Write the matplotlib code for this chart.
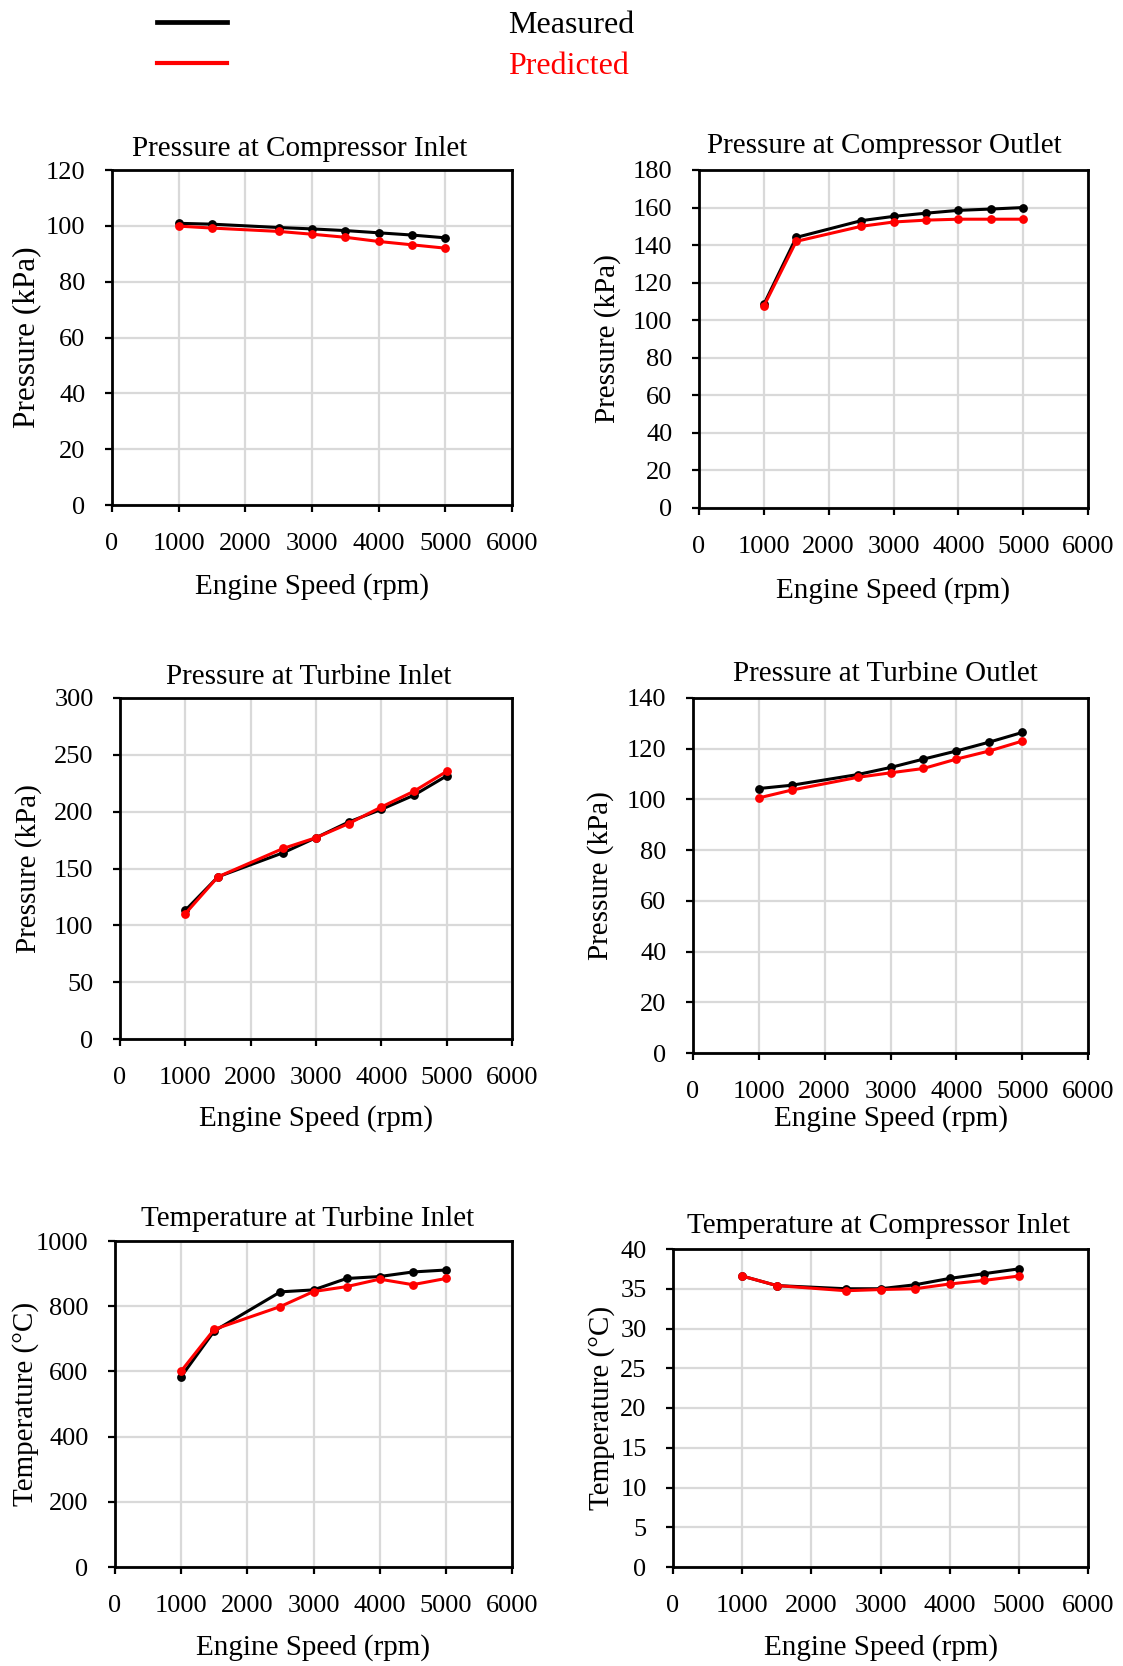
import matplotlib
matplotlib.use("Agg")
import matplotlib.pyplot as plt
from matplotlib.lines import Line2D

plt.rcParams['font.family'] = ['Liberation Serif', 'DejaVu Serif']

# ---------------- data ----------------
speed = [1000, 1500, 2500, 3000, 3500, 4000, 4500, 5000]

p_comp_in_meas = [100.9, 100.6, 99.4, 98.9, 98.3, 97.5, 96.7, 95.7]
p_comp_in_pred = [99.9, 99.2, 98.0, 97.0, 95.9, 94.4, 93.2, 92.0]

p_comp_out_meas = [108.4, 144.1, 153.0, 155.3, 157.0, 158.5, 159.2, 160.0]
p_comp_out_pred = [107.5, 142.0, 150.0, 152.3, 153.3, 153.8, 153.8, 153.8]

p_turb_in_meas = [113.2, 142.7, 163.9, 177.1, 190.9, 202.0, 214.5, 231.5]
p_turb_in_pred = [110.3, 142.7, 167.7, 177.1, 189.5, 204.1, 218.0, 235.4]

p_turb_out_meas = [104.3, 105.6, 109.8, 112.6, 115.9, 119.1, 122.6, 126.4]
p_turb_out_pred = [100.6, 103.7, 108.7, 110.5, 112.2, 115.9, 119.1, 123.0]

t_turb_in_meas = [584, 724, 844, 850, 885, 891, 905, 911]
t_turb_in_pred = [601, 729, 799, 845, 860, 883, 866, 885]

t_comp_in_meas = [36.6, 35.4, 35.0, 35.0, 35.5, 36.3, 36.9, 37.5]
t_comp_in_pred = [36.6, 35.4, 34.75, 34.9, 35.0, 35.6, 36.05, 36.6]

titles = ["Pressure at Compressor Inlet", "Pressure at Compressor Outlet",
          "Pressure at Turbine Inlet", "Pressure at Turbine Outlet",
          "Temperature at Turbine Inlet", "Temperature at Compressor Inlet"]
ylabels = ["Pressure (kPa)", "Pressure (kPa)", "Pressure (kPa)", "Pressure (kPa)",
           "Temperature (°C)", "Temperature (°C)"]
xlabel = "Engine Speed (rpm)"
x_ticks = [0, 1000, 2000, 3000, 4000, 5000, 6000]
y_maxes = [120, 180, 300, 140, 1000, 40]
y_steps = [20, 20, 50, 20, 200, 5]
series_labels = ["Measured", "Predicted"]

measured = [p_comp_in_meas, p_comp_out_meas, p_turb_in_meas, p_turb_out_meas,
            t_turb_in_meas, t_comp_in_meas]
predicted = [p_comp_in_pred, p_comp_out_pred, p_turb_in_pred, p_turb_out_pred,
             t_turb_in_pred, t_comp_in_pred]

# ---------------- layout (pixels) ----------------
W, H = 1123, 1666
# left, right, top, bottom
boxes = [(112, 512, 170, 505), (699, 1088, 170, 508),
         (120, 512, 698, 1039), (693, 1088, 698, 1053),
         (115, 512, 1241, 1567), (673, 1088, 1249, 1567)]
title_x = [0.47, 0.476, 0.482, 0.486, 0.486, 0.494]
title_pad = [10, 12.5, 10, 12.5, 11, 11.5]
xlabel_off = [81.5, 83, 80, 66, 81, 81]
ylabel_off = [85.5, 91, 91.3, 92, 89.5, 71.5]
ylabel_size = [22.5, 21, 21, 21, 21, 21]

fig = plt.figure(figsize=(W / 100, H / 100), dpi=100)

BLACK = "#000000"
RED = "#ff0000"
GRID = "#d9d9d9"

for i in range(6):
    l, r, t, b = boxes[i]
    ax = fig.add_axes([l / W, (H - b) / H, (r - l) / W, (b - t) / H])
    ax.plot(speed, measured[i], color=BLACK, lw=2.2, marker='o', ms=5.3, zorder=3)
    ax.plot(speed, predicted[i], color=RED, lw=2.2, marker='o', ms=5.3, zorder=4)
    ax.set_xlim(0, 6000)
    ax.set_ylim(0, y_maxes[i])
    ax.set_xticks(x_ticks)
    ax.set_yticks(list(range(0, y_maxes[i] + 1, y_steps[i])))
    ax.grid(True, color=GRID, lw=1.6, zorder=0)
    ax.set_axisbelow(True)
    for sp in ax.spines.values():
        sp.set_linewidth(2.0)
        sp.set_color(BLACK)
    ax.tick_params(axis='x', direction='out', length=5, width=1.6, labelsize=19, pad=15.5)
    ax.tick_params(axis='y', direction='out', length=5, width=1.6, labelsize=19, pad=14)
    ax.set_title(titles[i], fontsize=21, pad=title_pad[i])
    ax.title.set_position((title_x[i], 1.0))
    ax.set_xlabel(xlabel, fontsize=21)
    ax.set_ylabel(ylabels[i], fontsize=ylabel_size[i])
    ax.xaxis.set_label_coords(0.5, -xlabel_off[i] / (b - t))
    ax.xaxis.label.set_va('center')
    ax.yaxis.set_label_coords(-ylabel_off[i] / (r - l), 0.5)
    ax.yaxis.label.set_va('center')

handles = [Line2D([], [], color=BLACK, lw=3.4), Line2D([], [], color=RED, lw=3.0)]
fig.legend(handles, series_labels, loc='upper left',
           bbox_to_anchor=(157 / W, 1 - 11 / H), frameon=False,
           fontsize=23, handlelength=2.2, handletextpad=8.8,
           labelspacing=0.36, borderpad=0, borderaxespad=0,
           labelcolor=[BLACK, RED])

fig.savefig("out.png", dpi=100, facecolor='white')
